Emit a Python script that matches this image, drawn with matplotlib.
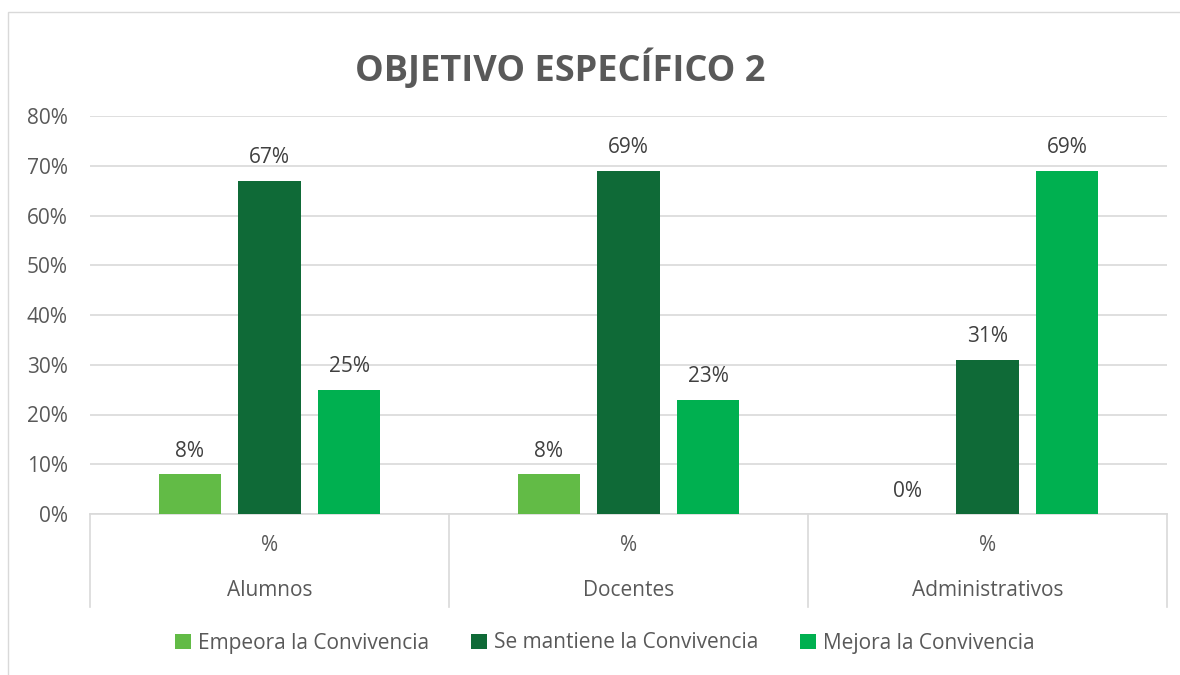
import matplotlib.pyplot as plt
import matplotlib.transforms as mtransforms
from matplotlib.patches import Rectangle

categorias = ["Alumnos", "Docentes", "Administrativos"]
subetiqueta = "%"
series = ["Empeora la Convivencia", "Se mantiene la Convivencia", "Mejora la Convivencia"]
empeora = [0.08, 0.08, 0.00]
mantiene = [0.67, 0.69, 0.31]
mejora = [0.25, 0.23, 0.69]
colores = ["#62BB46", "#0F6A37", "#00B050"]
ticks_y = [0, 0.1, 0.2, 0.3, 0.4, 0.5, 0.6, 0.7, 0.8]

plt.rcParams['font.family'] = ['Open Sans', 'DejaVu Sans']
gris = "#595959"

fig = plt.figure(figsize=(11.8, 6.75), dpi=100)
ax = fig.add_axes([90 / 1180, 1 - 514 / 675, (1167 - 90) / 1180, (514 - 116) / 675])

# borde del area del grafico
fig.patches.append(Rectangle((8 / 1180, -0.01), 1.02, 1 - 12 / 675 + 0.01, transform=fig.transFigure,
                             fill=False, edgecolor="#D9D9D9", lw=1))

ancho = 0.173
paso = 0.2215
x = range(len(categorias))
for i, (vals, col, nom) in enumerate(zip([empeora, mantiene, mejora], colores, series)):
    pos = [xi + (i - 1) * paso for xi in x]
    ax.bar(pos, vals, ancho, color=col, label=nom, zorder=3)
    for p, v in zip(pos, vals):
        ax.text(p, v + 0.025, f"{v * 100:.0f}%", ha="center", va="bottom",
                fontsize=15, color="#404040")

ax.set_ylim(0, 0.8)
ax.set_xlim(-0.5, 2.5)
ax.set_yticks(ticks_y)
ax.set_yticklabels([f"{t * 100:.0f}%" for t in ticks_y])
ax.tick_params(axis="y", length=0, labelsize=15, labelcolor=gris, pad=16)
ax.tick_params(axis="x", length=0, labelbottom=False)
ax.grid(axis="y", color="#D9D9D9", lw=1.2, zorder=0)
for s in ["top", "right", "left"]:
    ax.spines[s].set_visible(False)
ax.spines["bottom"].set_color("#D9D9D9")
ax.spines["bottom"].set_linewidth(1.2)

# eje de categorias con separadores
tr = mtransforms.blended_transform_factory(ax.transData, ax.transAxes)
for b in [-0.5, 0.5, 1.5, 2.5]:
    ax.plot([b, b], [0, -0.234], transform=tr, color="#D9D9D9", lw=1.2, clip_on=False)
for xi, c in zip(x, categorias):
    ax.text(xi, -0.078, subetiqueta, transform=tr, ha="center", va="center", fontsize=15, color=gris)
    ax.text(xi, -0.193, c, transform=tr, ha="center", va="center", fontsize=15, color=gris)

fig.text(560 / 1180, 1 - 70 / 675, "OBJETIVO ESPECÍFICO 2", ha="center", va="center",
         fontsize=26, fontweight="bold", color=gris)

fig.legend(loc="center", bbox_to_anchor=(605 / 1180, 1 - 643 / 675), ncol=3, frameon=False,
           fontsize=15, labelcolor=gris, handlelength=0.75, handleheight=0.75,
           handletextpad=0.35, columnspacing=2.0)

fig.savefig("out.png", dpi=100)
